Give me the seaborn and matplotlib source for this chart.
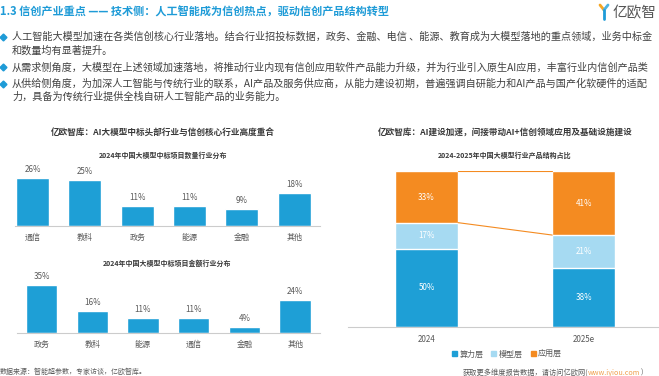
import matplotlib
matplotlib.use('Agg')
import matplotlib.pyplot as plt
import seaborn as sns
from matplotlib.lines import Line2D
from matplotlib.patches import Patch

sns.set_style('white')
plt.rcParams['font.family'] = ['Noto Sans CJK SC', 'DejaVu Sans']

# ---- data ----
count_cats = ['通信', '教科', '政务', '能源', '金融', '其他']
count_vals = [26, 25, 11, 11, 9, 18]

amount_cats = ['政务', '教科', '能源', '通信', '金融', '其他']
amount_vals = [35, 16, 11, 11, 4, 24]

years = ['2024', '2025e']
compute_layer = [50, 38]   # 算力层
model_layer = [17, 21]     # 模型层
app_layer = [33, 41]       # 应用层
layer_names = ['算力层', '模型层', '应用层']

title = '1.3 信创产业重点 —— 技术侧：人工智能成为信创热点，驱动信创产品结构转型'
# text as far as it is visible on the slide
bullets = [
    ['人工智能大模型加速在各类信创核心行业落地。结合行业招投标数据，政务、金融、电信 、能源、教育成为大模型落地的重点领域，业务中标金',
     '和数量均有显著提升。'],
    ['从需求侧角度，大模型在上述领域加速落地，将推动行业内现有信创应用软件产品能力升级，并为行业引入原生AI应用，丰富行业内信创产品类'],
    ['从供给侧角度，为加深人工智能与传统行业的联系，AI产品及服务供应商，从能力建设初期，普遍强调自研能力和AI产品与国产化软硬件的适配',
     '力，具备为传统行业提供全栈自研人工智能产品的业务能力。'],
]

W, H = 659, 376
BLUE = '#1e9fd6'
LIGHT = '#a6daf2'
ORANGE = '#f48b21'
GRAY = '#595959'
DARK = '#3a3a3a'

fig = plt.figure(figsize=(W / 100, H / 100), dpi=100)


def px_axes(x0, y_top, x1, y_bot):
    return fig.add_axes([x0 / W, 1 - y_bot / H, (x1 - x0) / W, (y_bot - y_top) / H])


def ftext(x, y, s, **kw):
    return fig.text(x / W, 1 - y / H, s, **kw)


# ---- header ----
ftext(0, 12, title, fontsize=8, fontweight='bold', color='#1e9bd7', va='center')
ftext(613, 13, '亿欧智', fontsize=10.5, color='#555555', va='center')
fig.add_artist(Line2D([600 / W, 604 / W], [1 - 5 / H, 1 - 10 / H], transform=fig.transFigure,
                      color='#f5a623', lw=2))
fig.add_artist(Line2D([608 / W, 604 / W], [1 - 5 / H, 1 - 10 / H], transform=fig.transFigure,
                      color='#4fb3e0', lw=2))
fig.add_artist(Line2D([604 / W, 604 / W], [1 - 10 / H, 1 - 19 / H], transform=fig.transFigure,
                      color='#1e9bd7', lw=2))

line_ys = [[37, 51], [67], [84, 97]]
for lines, ys in zip(bullets, line_ys):
    fig.add_artist(Line2D([3 / W], [1 - ys[0] / H], transform=fig.transFigure, marker='D',
                          markersize=3.5, color='#1e9bd7', lw=0))
    for s, y in zip(lines, ys):
        ftext(12, y, s, fontsize=7.3, color='#404040', va='center')

# ---- left panel ----
ftext(163, 132, '亿欧智库：AI大模型中标头部行业与信创核心行业高度重合', fontsize=6.2,
      fontweight='bold', color=DARK, ha='center', va='center')
ftext(163, 155, '2024年中国大模型中标项目数量行业分布', fontsize=5, fontweight='bold',
      color=DARK, ha='center', va='center')
ftext(167, 263, '2024年中国大模型中标项目金额行业分布', fontsize=5, fontweight='bold',
      color=DARK, ha='center', va='center')


def simple_bars(ax, cats, vals, width, xlim, ylim):
    sns.barplot(x=cats, y=vals, color=BLUE, saturation=1, width=width, ax=ax)
    ax.set_xlim(*xlim)
    ax.set_ylim(*ylim)
    for i, v in enumerate(vals):
        ax.annotate(f'{v}%', (i, v), xytext=(0, 3), textcoords='offset points',
                    ha='center', va='bottom', fontsize=5.8, color=GRAY, annotation_clip=False)
    ax.set_yticks([])
    ax.set_ylabel('')
    sns.despine(ax=ax, left=True)
    ax.spines['bottom'].set_color('#cccccc')
    ax.spines['bottom'].set_linewidth(0.8)
    ax.tick_params(axis='x', length=0, pad=5, labelsize=5.8, labelcolor=GRAY)
    ax.patch.set_alpha(0)


ax1 = px_axes(15, 226 - 30 * 1.84, 320, 226)
simple_bars(ax1, count_cats, count_vals, 0.63, (-0.334, 5.49), (0, 30))

ax2 = px_axes(17, 333 - 40 * 1.38, 320, 333)
simple_bars(ax2, amount_cats, amount_vals, 0.62, (-0.483, 5.49), (0, 40))

ftext(0, 372, '数据来源：智能超参数，专家访谈，亿欧智库。', fontsize=5, color=GRAY, va='center')

# ---- right panel ----
ftext(505, 132, '亿欧智库：AI建设加速，间接带动AI+信创领域应用及基础设施建设', fontsize=6.2,
      fontweight='bold', color=DARK, ha='center', va='center')
ftext(505, 155, '2024-2025年中国大模型行业产品结构占比', fontsize=5, fontweight='bold',
      color=DARK, ha='center', va='center')

ax3 = px_axes(348, 171.5, 659, 326.5)
lvl2 = [a + b for a, b in zip(compute_layer, model_layer)]
lvl3 = [a + b for a, b in zip(lvl2, app_layer)]
sns.barplot(x=years, y=lvl3, color=ORANGE, saturation=1, width=0.4, ax=ax3)
sns.barplot(x=years, y=lvl2, color=LIGHT, saturation=1, width=0.4, ax=ax3)
sns.barplot(x=years, y=compute_layer, color=BLUE, saturation=1, width=0.4, ax=ax3)
ax3.set_xlim(-0.5, 1.48)
ax3.set_ylim(0, 100)
for top in (lvl3, lvl2):
    ax3.plot([0.2, 0.8], [top[0], top[1]], color=ORANGE, lw=0.8)
for i in range(len(years)):
    bottoms = [0, compute_layer[i], lvl2[i]]
    for b, v in zip(bottoms, [compute_layer[i], model_layer[i], app_layer[i]]):
        ax3.text(i, b + v / 2, f'{v}%', ha='center', va='center', fontsize=5.8, color='white')
ax3.set_yticks([])
ax3.set_ylabel('')
sns.despine(ax=ax3, left=True)
ax3.spines['bottom'].set_color('#cccccc')
ax3.spines['bottom'].set_linewidth(0.8)
ax3.tick_params(axis='x', length=0, pad=6, labelsize=5.8, labelcolor=GRAY)
ax3.patch.set_alpha(0)

handles = [Patch(color=c) for c in (BLUE, LIGHT, ORANGE)]
fig.legend(handles, layer_names, loc='center', bbox_to_anchor=(507 / W, 1 - 354 / H), ncol=3,
           frameon=False, fontsize=5.8, labelcolor=GRAY, handlelength=0.6, handleheight=0.6,
           handletextpad=0.3, columnspacing=1.0)

# footer: chain the pieces right to left so they never overlap
t_close = ftext(643, 373, ')', fontsize=5.2, color=GRAY, ha='right', va='center')
t_url = ax3.annotate('www.iyiou.com', xy=(0, 0.5), xycoords=t_close, ha='right', va='center',
                     fontsize=5.2, color='#f0a050', annotation_clip=False)
ax3.annotate('获取更多维度报告数据，请访问亿欧网(', xy=(0, 0.5), xycoords=t_url, ha='right',
             va='center', fontsize=5.2, color=GRAY, annotation_clip=False)

fig.savefig('out.png', dpi=100)
